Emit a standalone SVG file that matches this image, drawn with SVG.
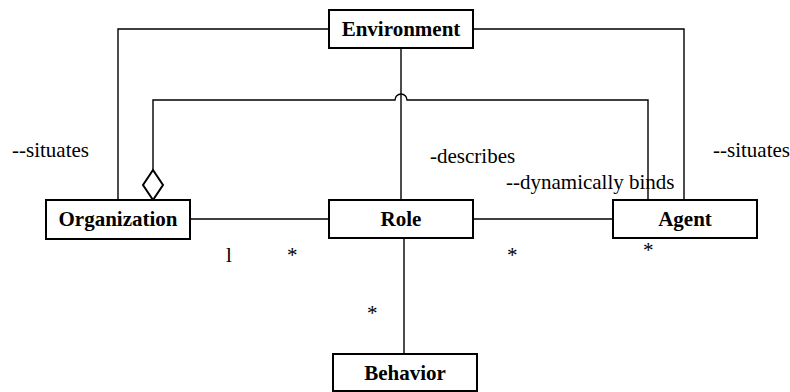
<svg xmlns="http://www.w3.org/2000/svg" width="790" height="392" viewBox="0 0 790 392">
<style>
.box{fill:#fff;stroke:#000;stroke-width:2}
.lbl{font-family:"Liberation Serif",serif;font-size:21px;font-weight:bold;text-anchor:middle;fill:#000}
.t{font-family:"Liberation Serif",serif;font-size:21px;fill:#000}
.c{fill:none;stroke:#000;stroke-width:1.4}
</style>
<rect width="790" height="392" fill="#fff"/>
<g id="connectors">
<path class="c" d="M329,29 H118 V200"/>
<path class="c" d="M473,29 H684 V200"/>
<path class="c" d="M401,48 V200"/>
<path class="c" d="M153,170 V100 H395 A6,6 0 0 1 407,100 H648 V200"/>
<path d="M153,170 L163,185 L153,200 L143,185 Z" fill="#fff" stroke="#000" stroke-width="2"/>
<path class="c" d="M190,219 H329"/>
<path class="c" d="M473,219 H613"/>
<path class="c" d="M404,238 V354"/>
</g>
<g id="labels">
<text class="t" x="12" y="157">--situates</text>
<text class="t" x="713" y="157">--situates</text>
<text class="t" x="430" y="163">-describes</text>
<text class="t" x="506" y="189">--dynamically binds</text>
<text class="t" x="226" y="262">l</text>
<text class="t" x="287" y="262">*</text>
<text class="t" x="507" y="262">*</text>
<text class="t" x="643" y="257">*</text>
<text class="t" x="367" y="320">*</text>
</g>
<g id="environment"><rect class="box" x="329" y="10" width="144" height="38"/><text class="lbl" x="401" y="36">Environment</text></g>
<g id="organization"><rect class="box" x="46" y="200" width="144" height="39"/><text class="lbl" x="118" y="226">Organization</text></g>
<g id="role"><rect class="box" x="329" y="200" width="144" height="38"/><text class="lbl" x="401" y="226">Role</text></g>
<g id="agent"><rect class="box" x="613" y="200" width="144" height="38"/><text class="lbl" x="685" y="226">Agent</text></g>
<g id="behavior"><rect class="box" x="333" y="354" width="144" height="37"/><text class="lbl" x="405" y="380">Behavior</text></g>
</svg>
